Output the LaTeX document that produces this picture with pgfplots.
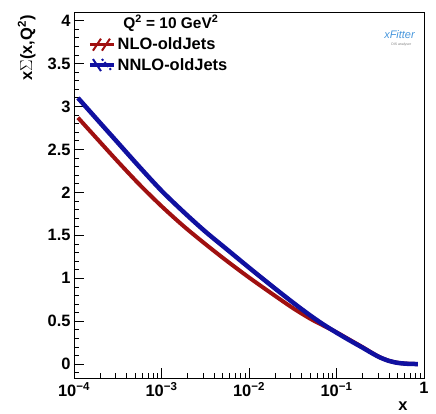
\documentclass[border=0pt]{standalone}
\usepackage{pgfplots}
\pgfplotsset{compat=1.18}
\usepackage{fontspec}
\setmainfont{Liberation Sans}
\usetikzlibrary{calc}

\definecolor{nlored}{RGB}{160,16,16}
\definecolor{nnloblue}{RGB}{16,16,160}
\definecolor{xfblue}{RGB}{70,150,220}

\begin{document}
\begin{tikzpicture}
\begin{axis}[
  name=ax,
  scale only axis, width=350bp, height=366bp,
  xmode=log, xmin=1e-4, xmax=1,
  ymin=-0.16, ymax=4.1,
  xtick={1e-4,1e-3,1e-2,1e-1,1},
  xticklabels={10\textsuperscript{−4},10\textsuperscript{−3},10\textsuperscript{−2},10\textsuperscript{−1},1},
  minor xtick={2e-4,3e-4,4e-4,5e-4,6e-4,7e-4,8e-4,9e-4,
               2e-3,3e-3,4e-3,5e-3,6e-3,7e-3,8e-3,9e-3,
               2e-2,3e-2,4e-2,5e-2,6e-2,7e-2,8e-2,9e-2,
               0.2,0.3,0.4,0.5,0.6,0.7,0.8,0.9},
  ytick={0,0.5,...,4},
  minor ytick={-0.1,0,0.1,...,4.1},
  yticklabel style={/pgf/number format/assume math mode=true},
  tick label style={font=\fontsize{16.5}{18}\selectfont\bfseries},
  xticklabel style={yshift=-1bp},
  xtick pos=bottom, ytick pos=left, tick align=inside,
  major tick length=10bp, minor tick length=5bp,
  tick style={black, line width=0.8bp},
  axis line style={line width=0.8bp},
  xlabel={x}, ylabel={x$\Sigma$(x,Q\textsuperscript{2})},
  every axis x label/.style={at={(rel axis cs:0.94,0)}, yshift=-28bp, anchor=center,
    font=\fontsize{16.5}{18}\selectfont\bfseries},
  every axis y label/.style={at={(rel axis cs:-0.1,1)}, anchor=south east, rotate=90,
    font=\fontsize{16.5}{18}\selectfont\bfseries},
  legend style={at={(rel axis cs:0.04,0.935)}, anchor=north west, draw=none, fill=none,
    font=\fontsize{16.5}{18}\selectfont\bfseries, row sep=3bp, inner sep=0pt},
  legend cell align=left,
  clip=false,
]
\addlegendimage{legend image code/.code={
  \draw[nlored, line width=3.5bp] (0bp,0bp) -- (24bp,0bp);
  \draw[nlored, line width=2bp] (3bp,-6bp) -- (11bp,6bp);
  \draw[nlored, line width=2bp] (12bp,-6bp) -- (20bp,6bp);}}
\addlegendentry{NLO-oldJets}
\addlegendimage{legend image code/.code={
  \draw[nnloblue, line width=3.5bp] (0bp,0bp) -- (24bp,0bp);
  \draw[nnloblue, line width=2bp] (3bp,6bp) -- (11bp,-6bp);
  \draw[nnloblue, line width=2bp, dotted] (12bp,6bp) -- (22bp,-6bp);}}
\addlegendentry{NNLO-oldJets}

% NLO
\addplot[nlored, line width=4bp, forget plot, smooth, tension=0.5] coordinates {
 (1.11e-4,2.87)(1.778e-4,2.64)(3.162e-4,2.36)(5.623e-4,2.09)(1e-3,1.84)
 (1.778e-3,1.61)(3.162e-3,1.40)(5.623e-3,1.20)(1e-2,1.01)(1.778e-2,0.83)
 (3.162e-2,0.655)(5.012e-2,0.53)(7.079e-2,0.45)(0.1,0.372)(0.1413,0.285)
 (0.1995,0.198)(0.2512,0.136)(0.3162,0.08)(0.3981,0.04)(0.5012,0.017)
 (0.631,0.007)(0.85,0.002)
};
% NNLO
\addplot[nnloblue, line width=4.5bp, forget plot, smooth, tension=0.5] coordinates {
 (1.11e-4,3.10)(1.778e-4,2.865)(3.162e-4,2.58)(5.623e-4,2.295)(1e-3,2.02)
 (1.778e-3,1.775)(3.162e-3,1.545)(5.623e-3,1.335)(1e-2,1.125)(1.778e-2,0.92)
 (3.162e-2,0.72)(5.012e-2,0.568)(7.079e-2,0.463)(0.1,0.368)(0.1413,0.278)
 (0.1995,0.192)(0.2512,0.132)(0.3162,0.078)(0.3981,0.039)(0.5012,0.016)
 (0.631,0.006)(0.85,0.002)
};

\node[anchor=base west, font=\fontsize{15.5}{17}\selectfont\bfseries]
  at (rel axis cs:0.131,0.956) {Q\textsuperscript{2} = 10 GeV\textsuperscript{2}};
\node[anchor=center, font=\fontsize{11}{12}\selectfont\itshape, text=xfblue]
  at (rel axis cs:0.93,0.938) {xFitter};
\node[anchor=center, font=\fontsize{3.5}{4}\selectfont, text=gray]
  at (rel axis cs:0.935,0.91) {DIS analyser};
\end{axis}
\pgfresetboundingbox
\path[use as bounding box] ($(ax.south west)+(-74bp,-36bp)$) rectangle ($(ax.north east)+(12bp,12bp)$);
\end{tikzpicture}
\end{document}
